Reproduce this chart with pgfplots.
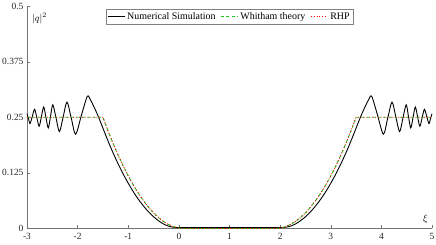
\documentclass[border=0pt]{standalone}
\usepackage{pgfplots}
\pgfplotsset{compat=1.18}
\usepackage{fontspec}
\setmainfont{Liberation Serif}
\begin{document}
\begin{tikzpicture}
\begin{axis}[
  at={(0,0)}, anchor=south west,
  width=405bp, height=222.4bp, scale only axis,
  xmin=-3, xmax=5, ymin=0, ymax=0.5,
  axis x line=bottom, axis y line=left,
  axis line style={-, draw=black!55},
  xtick={-3,-2,-1,0,1,2,3,4,5}, xticklabels={-3,-2,-1,0,1,2,3,4,5},
  ytick={0,0.125,0.25,0.375,0.5}, yticklabels={0,0.125,0.25,0.375,0.5},
  tick align=inside, major tick length=3bp, tick style={black!55, thin},
  /pgf/number format/assume math mode=true,
  ticklabel style={font=\fontsize{9.5}{11}\selectfont, text=black!85},
  xticklabel style={yshift=-1bp},
  legend columns=3,
  legend style={at={(0.5,0.985)}, anchor=north, draw=black!50, fill=white,
    font=\fontsize{10}{11}\selectfont, inner xsep=1.5pt, inner ysep=1pt,
    /tikz/every even column/.append style={column sep=3pt}},
  legend image post style={line width=0.9pt},
  clip=false,
]
\addplot[black, line width=0.9pt, smooth, tension=0.5] coordinates {
(-3.000,0.258) (-2.970,0.247) (-2.940,0.236) (-2.895,0.252) (-2.850,0.268)
(-2.805,0.249) (-2.760,0.230) (-2.715,0.2515) (-2.670,0.273) (-2.625,0.2495)
(-2.580,0.226) (-2.535,0.252) (-2.490,0.278) (-2.425,0.248) (-2.360,0.218)
(-2.285,0.251) (-2.210,0.284) (-2.125,0.248) (-2.040,0.212) (-1.925,0.2545)
(-1.810,0.297) (-1.750,0.290) (-1.700,0.279) (-1.650,0.267) (-1.600,0.254)
(-1.550,0.240) (-1.480,0.2197) (-1.380,0.1914) (-1.280,0.1650) (-1.180,0.1406)
(-1.080,0.1182) (-0.980,0.0977) (-0.880,0.0791) (-0.780,0.0625) (-0.680,0.0479)
(-0.580,0.0352) (-0.480,0.0244) (-0.380,0.0156) (-0.280,0.0088) (-0.180,0.0045)
(-0.080,0.0025) (0.020,0.002) (0.5,0.002) (1.0,0.002) (1.5,0.002) (1.980,0.002)
(2.080,0.0025) (2.180,0.0045) (2.280,0.0088) (2.380,0.0156) (2.480,0.0244)
(2.580,0.0352) (2.680,0.0479) (2.780,0.0625) (2.880,0.0791) (2.980,0.0977)
(3.080,0.1182) (3.180,0.1406) (3.280,0.1650) (3.380,0.1914) (3.480,0.2197)
(3.550,0.240) (3.600,0.254) (3.650,0.267) (3.700,0.279) (3.750,0.290)
(3.810,0.297) (3.925,0.2545) (4.040,0.212) (4.125,0.248) (4.210,0.284)
(4.285,0.251) (4.360,0.218) (4.425,0.248) (4.490,0.278) (4.535,0.252)
(4.580,0.226) (4.625,0.2495) (4.670,0.273) (4.715,0.2515) (4.760,0.230)
(4.805,0.249) (4.850,0.268) (4.895,0.252) (4.940,0.236) (4.970,0.247)
(5.000,0.258)
};
\addlegendentry{Numerical Simulation}
\addplot[color={rgb,1:red,0.1;green,0.8;blue,0.1}, line width=0.9pt, dash pattern=on 3pt off 2.5pt] coordinates {
(-3.0,0.25) (-1.5,0.25) (-1.4,0.2197) (-1.3,0.1914) (-1.2,0.1650) (-1.1,0.1406)
(-1.0,0.1182) (-0.9,0.0977) (-0.8,0.0791) (-0.7,0.0625) (-0.6,0.0479) (-0.5,0.0352)
(-0.4,0.0244) (-0.3,0.0156) (-0.2,0.0088) (-0.1,0.0039) (0.0,0.0010) (0.1,0.0)
(1.9,0.0) (2.0,0.0010) (2.1,0.0039) (2.2,0.0088) (2.3,0.0156) (2.4,0.0244)
(2.5,0.0352) (2.6,0.0479) (2.7,0.0625) (2.8,0.0791) (2.9,0.0977) (3.0,0.1182)
(3.1,0.1406) (3.2,0.1650) (3.3,0.1914) (3.4,0.2197) (3.5,0.25) (5.0,0.25)
};
\addlegendentry{Whitham theory}
\addplot[red, line width=0.9pt, dotted] coordinates {
(-3.0,0.25) (-1.5,0.25) (-1.4,0.2197) (-1.3,0.1914) (-1.2,0.1650) (-1.1,0.1406)
(-1.0,0.1182) (-0.9,0.0977) (-0.8,0.0791) (-0.7,0.0625) (-0.6,0.0479) (-0.5,0.0352)
(-0.4,0.0244) (-0.3,0.0156) (-0.2,0.0088) (-0.1,0.0039) (0.0,0.0010) (0.1,0.0)
(1.9,0.0) (2.0,0.0010) (2.1,0.0039) (2.2,0.0088) (2.3,0.0156) (2.4,0.0244)
(2.5,0.0352) (2.6,0.0479) (2.7,0.0625) (2.8,0.0791) (2.9,0.0977) (3.0,0.1182)
(3.1,0.1406) (3.2,0.1650) (3.3,0.1914) (3.4,0.2197) (3.5,0.25) (5.0,0.25)
};
\addlegendentry{RHP}
\node[anchor=west, font=\fontsize{10}{12}\selectfont] at (axis cs:-2.97,0.472) {$|q|^2$};
\node[font=\fontsize{10}{12}\selectfont] at (axis cs:4.87,0.022) {$\xi$};
\end{axis}
\pgfresetboundingbox
\path[use as bounding box] (-27bp,-16.5bp) rectangle (409bp,228.5bp);
\end{tikzpicture}
\end{document}
